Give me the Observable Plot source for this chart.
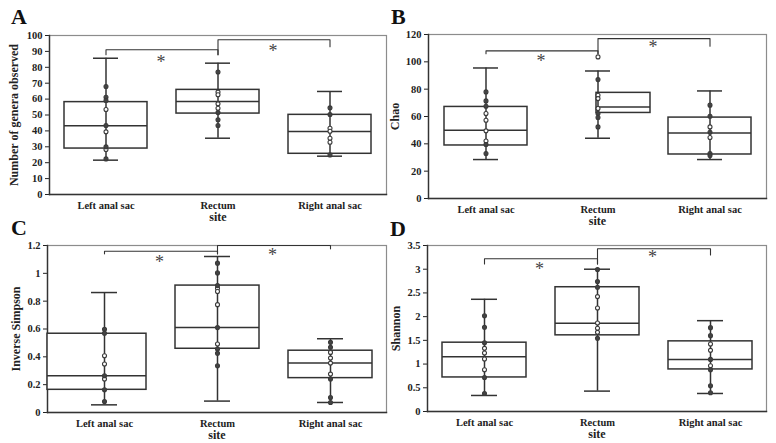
<!DOCTYPE html>
<html><head><meta charset="utf-8">
<script src="https://cdn.jsdelivr.net/npm/d3@7"></script>
<script src="https://cdn.jsdelivr.net/npm/@observablehq/plot@0.6"></script>
<style>
body{margin:0;background:#fff;}
#wrap{position:relative;width:776px;height:443px;overflow:hidden;background:#fff;}
.panel{position:absolute;}
.panel svg{overflow:visible;}
.panel g[aria-label="y-axis label"], .panel g[aria-label="x-axis label"]{font-size:12px;}
.letter{position:absolute;font:bold 22px/22px "Liberation Serif","Times New Roman",serif;color:#111;}
</style></head><body><div id="wrap"></div>
<script>
const categories = ["Left anal sac", "Rectum", "Right anal sac"];

// A: Number of genera observed
const generaTicks = [0,10,20,30,40,50,60,70,80,90,100];
const generaWhiskerLow  = [21.6, 35.4, 24.1];
const generaQ1          = [28.9, 50.9, 25.6];
const generaMedian      = [43.2, 58.5, 39.6];
const generaQ3          = [58.1, 65.8, 50.1];
const generaWhiskerHigh = [85.7, 82.6, 64.8];
const generaFilled = [[67.9, 61.2, 59.1, 43.4, 30, 22.4], [77, 51.5, 47, 43.4], [54.5, 50.3, 24.9]];
const generaOpen   = [[53.5, 39.4, 28.3], [64.4, 62.7, 57, 54.2], [41.7, 39.8, 35.4, 32.9]];
const generaBracketTop = [91, 97.3];
const generaBracketLegs = [[87.9, 87.9], [87.9, 93]];
const generaStars = [86, 92.4];

// B: Chao
const chaoTicks = [0,20,40,60,80,100,120];
const chaoWhiskerLow  = [28.5, 44.1, 28.5];
const chaoQ1          = [38.8, 62.6, 32.2];
const chaoMedian      = [50, 67, 48];
const chaoQ3          = [67, 77.3, 59.2];
const chaoWhiskerHigh = [95.5, 93.3, 78.7];
const chaoFilled = [[78, 71.4, 67.5, 39.5, 32.9], [87, 62.2, 59.3, 52.4], [68.3, 60.2, 48.5, 32.9, 31.4]];
const chaoOpen   = [[62.2, 57.3, 49.5, 42.1], [103.6, 75.6, 73.1, 65.8], [52.4, 44.6]];
const chaoBracketTop = [108, 117];
const chaoBracketLegs = [[106, 106], [106, 111.4]];
const chaoStars = [103, 113.4];

// C: Inverse Simpson
const simpsonTicks = [0,0.2,0.4,0.6,0.8,1,1.2];
const simpsonWhiskerLow  = [0.055, 0.082, 0.072];
const simpsonQ1          = [0.163, 0.458, 0.247];
const simpsonMedian      = [0.264, 0.61, 0.355];
const simpsonQ3          = [0.566, 0.912, 0.444];
const simpsonWhiskerHigh = [0.862, 1.121, 0.53];
const simpsonFilled = [[0.598, 0.569, 0.264, 0.163, 0.079], [1.073, 1.003, 0.912, 0.61, 0.456, 0.425, 0.336], [0.504, 0.468, 0.24, 0.108, 0.072]];
const simpsonOpen   = [[0.408, 0.348, 0.24], [0.893, 0.869, 0.775, 0.492], [0.432, 0.391, 0.355, 0.276]];
const simpsonBracketTop = [1.159, 1.2];
const simpsonBracketLegs = [[1.14, 1.14], [1.14, 1.176]];
const simpsonStars = [1.109, 1.157];

// D: Shannon
const shannonTicks = [0,0.5,1,1.5,2,2.5,3,3.5];
const shannonWhiskerLow  = [0.338, 0.43, 0.38];
const shannonQ1          = [0.718, 1.606, 0.887];
const shannonMedian      = [1.155, 1.859, 1.099];
const shannonQ3          = [1.451, 2.62, 1.479];
const shannonWhiskerHigh = [2.366, 3.0, 1.915];
const shannonFilled = [[2.02, 1.775, 1.451, 0.718, 0.38], [2.993, 2.739, 2.62, 1.542], [1.768, 1.599, 1.099, 0.88, 0.542, 0.394]];
const shannonOpen   = [[1.331, 1.232, 1.106, 0.88], [2.423, 2.183, 1.866, 1.754, 1.669], [1.423, 1.289, 0.965]];
const shannonBracketTop = [3.22, 3.43];
const shannonBracketLegs = [[3.11, 3.11], [3.11, 3.30]];
const shannonStars = [3.09, 3.33];

const ink = "#333";
const wrap = document.getElementById("wrap");

function panel(cfg) {
  const boxes = categories.map((c, i) => ({cat: c, i, lo: cfg.wl[i], q1: cfg.q1[i], med: cfg.med[i], q3: cfg.q3[i], hi: cfg.wh[i]}));
  const pts = categories.flatMap((c, i) => [
    ...cfg.open[i].map(v => ({cat: c, v, filled: false})),
    ...cfg.filled[i].map(v => ({cat: c, v, filled: true}))
  ]);
  const brackets = [];
  cfg.btop.forEach((t, k) => {
    const a = categories[k], b = categories[k + 1];
    brackets.push({id: k, cat: a, y: cfg.blegs[k][0]}, {id: k, cat: a, y: t}, {id: k, cat: b, y: t}, {id: k, cat: b, y: cfg.blegs[k][1]});
  });
  const stars = cfg.stars.map((y, k) => ({cat: categories[k], y}));
  const boxMarks = boxes.map((b, i) => {
    const [il, ir] = cfg.boxInsets[i];
    return Plot.barY([b], {x: "cat", y1: "q1", y2: "q3", fill: "white", stroke: ink, strokeWidth: 1.5, insetLeft: il, insetRight: ir});
  });
  const medMarks = boxes.map((b, i) => {
    const [il, ir] = cfg.boxInsets[i];
    return Plot.tickY([b], {x: "cat", y: "med", stroke: ink, strokeWidth: 1.5, insetLeft: il, insetRight: ir});
  });
  const plot = Plot.plot({
    width: cfg.width, height: cfg.height,
    marginLeft: cfg.mL, marginRight: cfg.mR, marginTop: cfg.mT, marginBottom: cfg.mB,
    style: {fontFamily: "'Liberation Serif','Times New Roman',serif", fontWeight: "bold", fontSize: "10.5px", background: "transparent", color: "#222", overflow: "visible"},
    x: {type: "band", domain: categories, paddingInner: 0.26, paddingOuter: 0.13, label: "site", labelAnchor: "center", labelOffset: 26, tickSize: 0, tickPadding: 7},
    y: {domain: cfg.domain, ticks: cfg.ticks, tickSize: 4, tickPadding: 3, label: cfg.label, labelAnchor: "center", labelOffset: cfg.labelOffset, labelArrow: "none", tickFormat: d => String(+d.toFixed(2))},
    marks: [
      Plot.frame({stroke: "#8c8c8c", strokeWidth: 1.2}),
      Plot.frame({anchor: "left", stroke: "#333", strokeWidth: 1.4}),
      Plot.frame({anchor: "bottom", stroke: "#333", strokeWidth: 1.4}),
      ...boxMarks,
      Plot.ruleX(boxes, {x: "cat", y1: "lo", y2: "hi", stroke: ink, strokeWidth: 1.5}),
      Plot.tickY(boxes, {x: "cat", y: "hi", stroke: ink, strokeWidth: 1.5, insetLeft: 29, insetRight: 29}),
      Plot.tickY(boxes, {x: "cat", y: "lo", stroke: ink, strokeWidth: 1.5, insetLeft: 29, insetRight: 29}),
      ...medMarks,
      Plot.line(brackets, {x: "cat", y: "y", z: "id", stroke: ink, strokeWidth: 1.1}),
      Plot.text(stars, {x: "cat", y: "y", text: () => "*", dx: 55, dy: 4, fontSize: 18, fontWeight: "normal", fill: "#444"}),
      Plot.dot(pts, {x: "cat", y: "v", r: 2, fill: d => d.filled ? "#444" : "white", stroke: "#3a3a3a", strokeWidth: 1.1})
    ]
  });
  const div = document.createElement("div");
  div.className = "panel";
  div.style.left = cfg.left + "px";
  div.style.top = cfg.top + "px";
  div.appendChild(plot);
  wrap.appendChild(div);
  const L = document.createElement("div");
  L.className = "letter";
  L.textContent = cfg.letter;
  L.style.left = cfg.lx + "px";
  L.style.top = cfg.ly + "px";
  wrap.appendChild(L);
}

const normalInsets = [[0, 0], [0, 0], [0, 0]];

panel({letter: "A", lx: 11, ly: 5.5, left: 0, top: 0, width: 390, height: 222, mL: 49, mR: 4, mT: 35, mB: 28,
  domain: [0, 100], ticks: generaTicks, label: "Number of genera observed", labelOffset: 40,
  wl: generaWhiskerLow, q1: generaQ1, med: generaMedian, q3: generaQ3, wh: generaWhiskerHigh,
  filled: generaFilled, open: generaOpen, btop: generaBracketTop, blegs: generaBracketLegs, stars: generaStars,
  boxInsets: normalInsets});

panel({letter: "B", lx: 391, ly: 5.5, left: 386, top: 0, width: 390, height: 222, mL: 42, mR: 10, mT: 34, mB: 24,
  domain: [0, 120], ticks: chaoTicks, label: "Chao", labelOffset: 38,
  wl: chaoWhiskerLow, q1: chaoQ1, med: chaoMedian, q3: chaoQ3, wh: chaoWhiskerHigh,
  filled: chaoFilled, open: chaoOpen, btop: chaoBracketTop, blegs: chaoBracketLegs, stars: chaoStars,
  boxInsets: [[0, 0], [40, -11], [0, 0]]});

panel({letter: "C", lx: 11, ly: 216.5, left: 0, top: 222, width: 390, height: 221, mL: 47, mR: 4, mT: 23, mB: 31,
  domain: [0, 1.2], ticks: simpsonTicks, label: "Inverse Simpson", labelOffset: 36,
  wl: simpsonWhiskerLow, q1: simpsonQ1, med: simpsonMedian, q3: simpsonQ3, wh: simpsonWhiskerHigh,
  filled: simpsonFilled, open: simpsonOpen, btop: simpsonBracketTop, blegs: simpsonBracketLegs, stars: simpsonStars,
  boxInsets: [[-15, 0], [0, 0], [0, 0]]});

panel({letter: "D", lx: 390, ly: 217.5, left: 386, top: 222, width: 390, height: 221, mL: 41, mR: 10, mT: 23, mB: 32,
  domain: [0, 3.5], ticks: shannonTicks, label: "Shannon", labelOffset: 36,
  wl: shannonWhiskerLow, q1: shannonQ1, med: shannonMedian, q3: shannonQ3, wh: shannonWhiskerHigh,
  filled: shannonFilled, open: shannonOpen, btop: shannonBracketTop, blegs: shannonBracketLegs, stars: shannonStars,
  boxInsets: normalInsets});
</script></body></html>
